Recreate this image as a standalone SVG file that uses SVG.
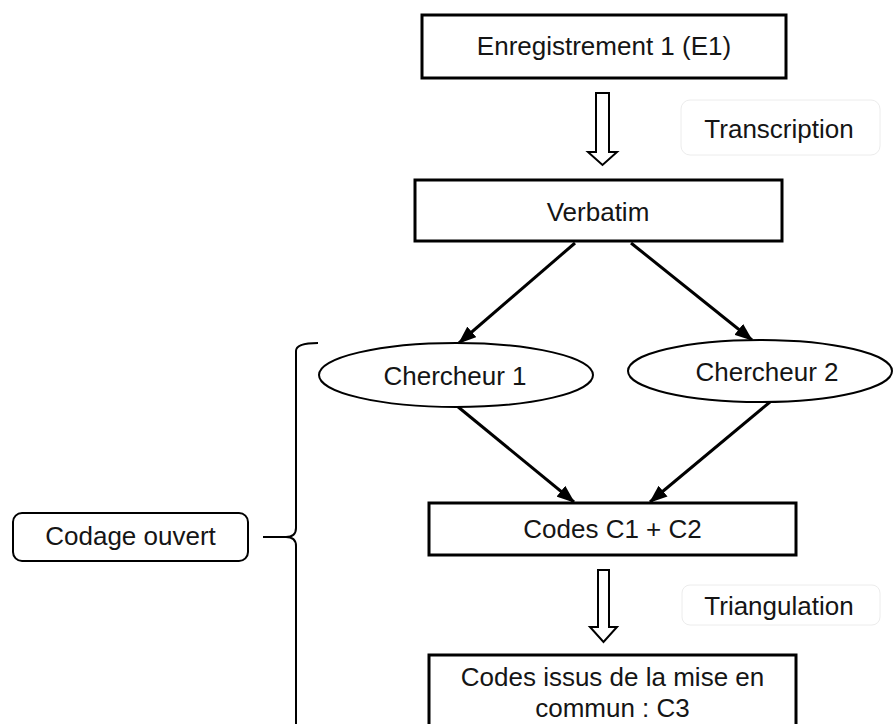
<svg xmlns="http://www.w3.org/2000/svg" width="893" height="724" viewBox="0 0 893 724">
  <style>
    text { font-family: "Liberation Sans", Arial, sans-serif; font-size: 26px; fill: #151515; text-anchor: middle; }
    .box { fill: #fff; stroke: #000; stroke-width: 3; }
    .oval { fill: #fff; stroke: #000; stroke-width: 2; }
    .tag { fill: #fff; stroke: #ececec; stroke-width: 1; }
    .label { fill: #fff; stroke: #000; stroke-width: 2; }
    .edge { fill: none; stroke: #000; stroke-width: 3; }
    .hollow { fill: #fff; stroke: #000; stroke-width: 2; stroke-linejoin: miter; }
    .brace { fill: none; stroke: #000; stroke-width: 2; }
  </style>
  <defs>
    <marker id="head" markerUnits="userSpaceOnUse" markerWidth="18" markerHeight="14" refX="17" refY="7" orient="auto">
      <path d="M0,0 L18,7 L0,14 z" fill="#000"/>
    </marker>
  </defs>

  <rect width="893" height="724" fill="#fff"/>

  <g id="connectors">
    <!-- hollow block arrows -->
    <path class="hollow" d="M596,93 H609 V152 H617 L602.5,165 L588,152 H596 Z"/>
    <path class="hollow" d="M598,570 H609 V627 H617 L603.5,642 L590,627 H598 Z"/>
    <!-- plain arrows -->
    <line class="edge" x1="575" y1="243" x2="459" y2="343" marker-end="url(#head)"/>
    <line class="edge" x1="631" y1="243" x2="752" y2="340" marker-end="url(#head)"/>
    <line class="edge" x1="457" y1="406" x2="574" y2="502" marker-end="url(#head)"/>
    <line class="edge" x1="770" y1="402" x2="650" y2="502" marker-end="url(#head)"/>
    <!-- brace tying the open-coding steps together -->
    <path class="brace" d="M318,343 Q296,343 296,351 V528 Q296,537 286,537 Q296,537 296,546 V724"/>
    <line class="brace" x1="263" y1="537" x2="287" y2="537"/>
  </g>

  <g id="enregistrement">
    <rect class="box" x="422" y="15" width="364" height="63"/>
    <text x="604" y="55">Enregistrement 1 (E1)</text>
  </g>

  <g id="transcription">
    <rect class="tag" x="681" y="100" width="199" height="55" rx="9"/>
    <text x="779" y="138">Transcription</text>
  </g>

  <g id="verbatim">
    <rect class="box" x="415" y="180" width="367" height="61"/>
    <text x="598" y="221">Verbatim</text>
  </g>

  <g id="chercheur1">
    <ellipse class="oval" cx="456" cy="375" rx="137" ry="32"/>
    <text x="455" y="385">Chercheur 1</text>
  </g>

  <g id="chercheur2">
    <ellipse class="oval" cx="760" cy="371" rx="132" ry="31"/>
    <text x="767" y="381">Chercheur 2</text>
  </g>

  <g id="codes-c1-c2">
    <rect class="box" x="429" y="503" width="367" height="52"/>
    <text x="612.5" y="538">Codes C1 + C2</text>
  </g>

  <g id="triangulation">
    <rect class="tag" x="682" y="585" width="198" height="40" rx="8"/>
    <text x="779" y="615">Triangulation</text>
  </g>

  <g id="codes-c3">
    <rect class="box" x="429" y="655" width="367" height="80"/>
    <text x="612.5" y="686">Codes issus de la mise en</text>
    <text x="612.5" y="717">commun : C3</text>
  </g>

  <g id="codage-ouvert">
    <rect class="label" x="13" y="513" width="235" height="48" rx="9"/>
    <text x="130.5" y="545">Codage ouvert</text>
  </g>
</svg>
